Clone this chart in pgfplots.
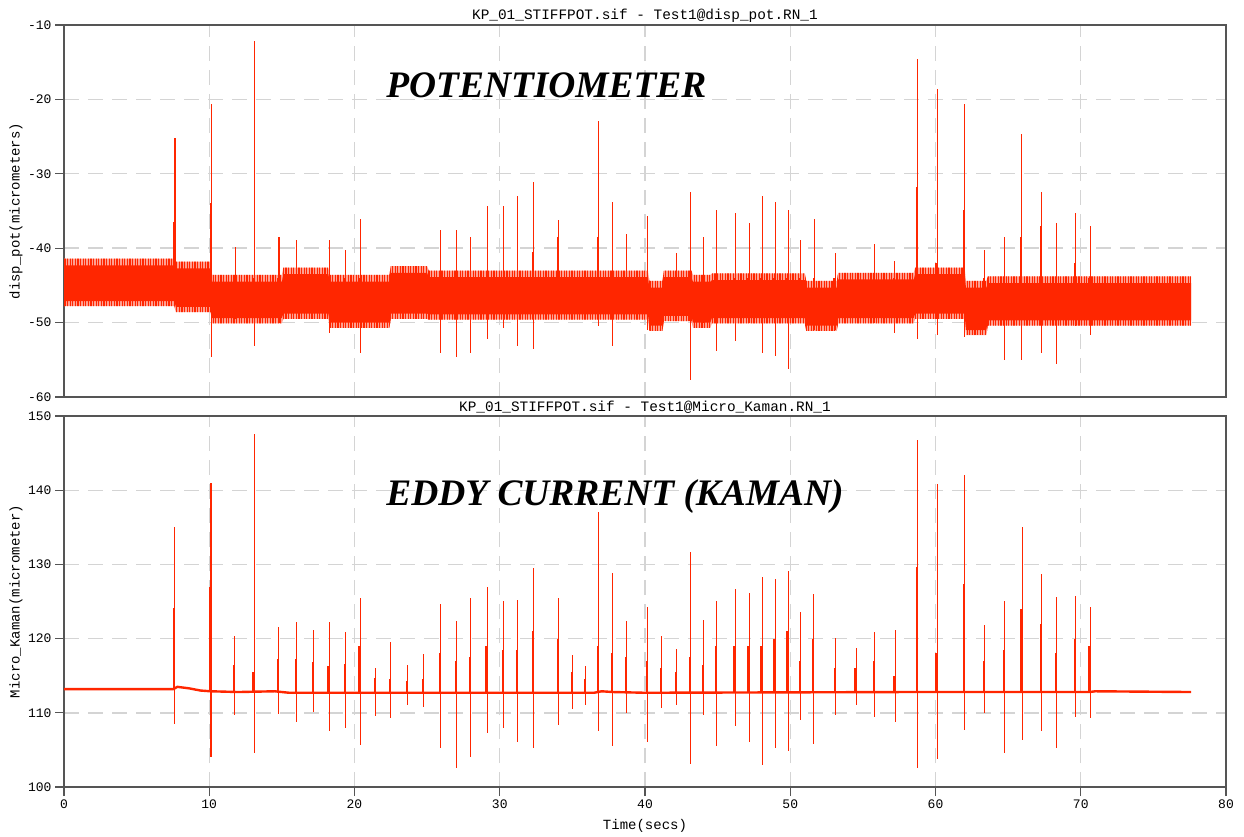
\documentclass[border=0pt]{standalone}
\usepackage{fontspec}
\setmainfont{Liberation Serif}
\setmonofont{Liberation Mono}
\usepackage{pgfplots}
\usepackage{pgfplotstable}
\usetikzlibrary{patterns.meta}
\pgfplotsset{compat=1.18}
\definecolor{sig}{RGB}{255,38,0}
\definecolor{sigl}{RGB}{255,160,145}
\definecolor{gridc}{RGB}{212,212,212}
\definecolor{framec}{RGB}{85,85,85}

% top: potentiometer spikes  t peak down secondary  (band centre -46.5)
\pgfplotstableread{
t p d s
7.64 -25.2 -47.5 -36.5
10.17 -20.6 -54.6 -33.9
11.78 -39.8 -49.5 -44
13.1 -12.2 -53.1 -44
14.8 -38.5 -50.0 -44
16.0 -38.9 -49.5 -44
18.25 -38.9 -51.4 -44
19.4 -40.2 -50.0 -44
20.4 -36.1 -54.1 -44
25.94 -37.5 -54.1 -44
27.04 -37.5 -54.6 -44
28.0 -38.5 -54.1 -44
29.13 -34.3 -52.2 -44
30.26 -34.3 -50.7 -44
31.2 -33.0 -53.1 -44
32.35 -31.1 -53.6 -40.5
34.04 -36.2 -49.5 -38.5
36.82 -22.9 -50.4 -38.5
37.78 -33.8 -53.1 -44
38.75 -38.1 -49.5 -44
40.17 -35.7 -51.0 -44
42.17 -40.7 -49.5 -44
43.16 -32.5 -57.7 -44
44.05 -38.5 -50.0 -44
44.95 -34.9 -53.8 -44
46.2 -35.3 -52.5 -44
47.18 -36.6 -50.0 -44
48.07 -33.0 -54.1 -44
48.97 -33.8 -54.5 -44
49.86 -34.9 -56.3 -44
50.73 -38.9 -50.0 -44
51.67 -36.1 -51.0 -44
53.1 -40.7 -51.0 -44
55.83 -39.4 -50.0 -44
57.2 -41.7 -51.4 -44
58.79 -14.6 -52.2 -31.8
60.12 -18.6 -51.7 -42
62.0 -20.6 -52.0 -34.9
63.4 -40.2 -51.0 -44
64.76 -38.5 -55.0 -44
65.95 -24.6 -55.0 -38.5
67.29 -32.5 -54.1 -37
68.34 -36.6 -55.5 -44
69.63 -35.3 -50.5 -42
70.64 -37.0 -51.7 -44
}\potspikes

% bottom: Kaman spikes  t base secondary peak down
\pgfplotstableread{
t b s p d
7.62 113.2 124.1 135.1 108.5
10.12 112.9 127 141 104
11.75 112.8 116.4 120.4 109.7
13.1 112.8 115.5 147.6 104.6
14.78 112.8 117.2 121.6 109.9
16.0 112.7 117.3 122.2 108.8
17.2 112.7 116.8 121.1 110.1
18.25 112.7 116.3 122.2 107.6
19.4 112.7 116.6 120.9 108.0
20.39 112.7 119 125.5 105.7
21.47 112.7 114.7 116.1 109.6
22.5 112.7 114.5 119.6 109.3
23.66 112.7 114.3 116.4 111.0
24.77 112.7 114.5 117.9 110.8
25.94 112.7 118 124.7 105.3
27.04 112.7 117 122.4 102.6
28.0 112.7 117.5 125.5 104.1
29.13 112.7 119 127.0 107.3
30.25 112.7 118.5 125.1 107.9
31.21 112.7 118.5 125.2 106.1
32.34 112.7 121 129.5 105.3
34.04 112.7 120 125.5 108.3
35.0 112.7 115.5 117.8 110.5
35.9 112.7 114.5 116.3 111.0
36.82 112.8 119 137.0 107.6
37.78 112.8 118 128.9 105.5
38.75 112.7 117.5 122.4 110.0
40.17 112.7 117 124.2 106.1
41.16 112.7 116 120.3 110.6
42.17 112.7 115.5 118.6 111.0
43.16 112.7 117.5 131.7 103.1
44.05 112.7 116.5 122.5 109.7
44.95 112.7 119 125.1 105.5
46.21 112.7 119 126.7 108.2
47.18 112.7 119 126.2 106.1
48.07 112.7 119 128.3 102.9
48.97 112.7 120 128.1 105.2
49.86 112.7 121 129.1 104.9
50.73 112.7 117 123.6 109.0
51.63 112.7 120 126.0 105.8
53.14 112.7 116 120.1 109.7
54.54 112.7 116 118.8 111.0
55.83 112.7 117 120.9 109.4
57.23 112.8 115 121.2 108.8
58.79 112.8 129.7 146.8 102.6
60.12 112.8 118 140.8 103.8
62.0 112.8 127.3 142.0 107.7
63.4 112.8 117 121.8 110.0
64.76 112.8 118.5 125.1 104.6
65.96 112.8 124 135.1 106.3
67.29 112.8 122 128.7 107.6
68.34 112.8 118 125.6 105.3
69.63 112.8 120 125.8 109.5
70.64 112.8 119 124.2 109.3
}\kamspikes

\pgfplotsset{kp/.style={
  scale only axis, width=1162pt,
  xmin=0, xmax=80, xtick={0,10,...,80},
  grid=major,
  major grid style={gridc, line width=1.4pt, dash pattern=on 15pt off 9pt},
  axis line style={framec, line width=1.4pt},
  tick style={framec, line width=1.1pt},
  tick align=outside, major tick length=9pt,
  xtick pos=bottom, ytick pos=left,
  tick label style={font=\fontsize{13}{13}\selectfont\ttfamily},
  /pgf/number format/assume math mode=true,
  title style={font=\fontsize{14.4}{15}\selectfont\ttfamily, at={(0.5,1)}, anchor=south, yshift=-6pt, inner sep=2pt},
  every axis y label/.style={at={(axis description cs:-0.0413,0.5)}, rotate=90, anchor=center, font=\fontsize{14}{15}\selectfont\ttfamily},
  every axis x label/.style={at={(axis description cs:0.5,-0.105)}, anchor=center, font=\fontsize{14}{15}\selectfont\ttfamily},
}}

\begin{document}
\begin{tikzpicture}
\useasboundingbox (0,0) rectangle (1244pt,836pt);

% ---------------- top axis
\begin{axis}[kp, at={(64pt,439pt)}, anchor=south west, height=372pt,
  ymin=-60, ymax=-10, ytick={-60,-50,...,-10},
  yticklabels={{-60},{-50},{-40},{-30},{-20},{-10}},
  xticklabels={}, xtick style={draw=none},
  title={KP\_01\_STIFFPOT.sif - Test1@disp\_pot.RN\_1},
  ylabel={disp\_pot(micrometers)}]
% outer noise fringe (ragged hairs)
\addplot[draw=none, fill=sigl, postaction={pattern={Lines[angle=90,distance=2.6pt,line width=1.3pt]}, pattern color=sig}] coordinates {
(0,-41.4)(7.6,-41.4)(7.7,-41.8)(10.1,-41.8)(10.2,-43.6)(15,-43.6)(15.1,-42.6)(18.2,-42.6)(18.3,-43.6)(22.4,-43.6)(22.5,-42.4)(25,-42.4)(25.1,-43.0)(40.2,-43.0)(40.3,-44.4)(41.2,-44.4)(41.3,-43.0)(43.2,-43.0)(43.3,-43.6)(44.5,-43.6)(44.6,-43.4)(51,-43.4)(51.1,-44.4)(53.2,-44.4)(53.3,-43.3)(58.5,-43.3)(58.6,-42.6)(62,-42.6)(62.1,-44.4)(63.5,-44.4)(63.6,-43.8)(77.6,-43.8)
(77.6,-50.4)(63.6,-50.4)(63.5,-51.7)(62.1,-51.7)(62,-49.5)(58.6,-49.5)(58.5,-50.1)(53.3,-50.1)(53.2,-51.1)(51.1,-51.1)(51,-50.1)(44.6,-50.1)(44.5,-50.7)(43.3,-50.7)(43.2,-49.8)(41.3,-49.8)(41.2,-51.1)(40.3,-51.1)(40.2,-49.6)(25.1,-49.6)(25,-49.5)(22.5,-49.5)(22.4,-50.7)(18.3,-50.7)(18.2,-49.5)(15.1,-49.5)(15,-50.1)(10.2,-50.1)(10.1,-48.6)(7.7,-48.6)(7.6,-47.8)(0,-47.8)
};
% dense noise core
\addplot[draw=none, fill=sig] coordinates {
(0,-42.3)(7.6,-42.3)(7.7,-42.7)(10.1,-42.7)(10.2,-44.5)(15,-44.5)(15.1,-43.5)(18.2,-43.5)(18.3,-44.5)(22.4,-44.5)(22.5,-43.3)(25,-43.3)(25.1,-43.9)(40.2,-43.9)(40.3,-45.3)(41.2,-45.3)(41.3,-43.9)(43.2,-43.9)(43.3,-44.5)(44.5,-44.5)(44.6,-44.3)(51,-44.3)(51.1,-45.3)(53.2,-45.3)(53.3,-44.2)(58.5,-44.2)(58.6,-43.5)(62,-43.5)(62.1,-45.3)(63.5,-45.3)(63.6,-44.7)(77.6,-44.7)
(77.6,-49.7)(63.6,-49.7)(63.5,-51.0)(62.1,-51.0)(62,-48.8)(58.6,-48.8)(58.5,-49.4)(53.3,-49.4)(53.2,-50.4)(51.1,-50.4)(51,-49.4)(44.6,-49.4)(44.5,-50.0)(43.3,-50.0)(43.2,-49.1)(41.3,-49.1)(41.2,-50.4)(40.3,-50.4)(40.2,-48.9)(25.1,-48.9)(25,-48.8)(22.5,-48.8)(22.4,-50.0)(18.3,-50.0)(18.2,-48.8)(15.1,-48.8)(15,-49.4)(10.2,-49.4)(10.1,-47.9)(7.7,-47.9)(7.6,-47.1)(0,-47.1)
};
% spikes
\addplot[draw=none, mark=none, error bars/.cd, y dir=both, y explicit, error mark=none,
  error bar style={draw=sig, line width=1.1pt, solid}]
  table[x=t, y expr=-46.5, y error plus expr=\thisrow{p}+46.5, y error minus expr=-46.5-\thisrow{d}] {\potspikes};
\addplot[draw=none, mark=none, error bars/.cd, y dir=plus, y explicit, error mark=none,
  error bar style={draw=sig, line width=1.6pt, solid}]
  table[x expr=\thisrow{t}-0.07, y expr=-46.5, y error plus expr=\thisrow{s}+46.5] {\potspikes};
\node[anchor=base west, font=\fontsize{37.4}{38}\selectfont\bfseries\itshape] at (axis cs:21.95,-19.7) {POTENTIOMETER};
\end{axis}

% ---------------- bottom axis
\begin{axis}[kp, at={(64pt,49pt)}, anchor=south west, height=371pt,
  ymin=100, ymax=150, ytick={100,110,...,150},
  yticklabels={{100},{110},{120},{130},{140},{150}},
  xticklabels={{0},{10},{20},{30},{40},{50},{60},{70},{80}},
  title={KP\_01\_STIFFPOT.sif - Test1@Micro\_Kaman.RN\_1},
  ylabel={Micro\_Kaman(micrometer)}, xlabel={Time(secs)}]
\addplot[sig, line width=2.4pt, line join=round] coordinates {
(0,113.2)(7.55,113.2)(7.8,113.5)(8.6,113.3)(9.4,113.0)(10.1,112.9)(12,112.8)(14.5,112.9)(15.5,112.7)(36.5,112.7)(37,112.9)(37.8,112.8)(40,112.7)(58,112.8)(70.6,112.8)(71,112.9)(77.6,112.8)
};
\addplot[draw=none, mark=none, error bars/.cd, y dir=both, y explicit, error mark=none,
  error bar style={draw=sig, line width=1.1pt, solid}]
  table[x=t, y=b, y error plus expr=\thisrow{p}-\thisrow{b}, y error minus expr=\thisrow{b}-\thisrow{d}] {\kamspikes};
\addplot[draw=none, mark=none, error bars/.cd, y dir=plus, y explicit, error mark=none,
  error bar style={draw=sig, line width=1.6pt, solid}]
  table[x expr=\thisrow{t}-0.07, y=b, y error plus expr=\thisrow{s}-\thisrow{b}] {\kamspikes};
\node[anchor=base west, font=\fontsize{37.4}{38}\selectfont\bfseries\itshape] at (axis cs:21.95,138.0) {EDDY CURRENT (KAMAN)};
\end{axis}
\end{tikzpicture}
\end{document}
